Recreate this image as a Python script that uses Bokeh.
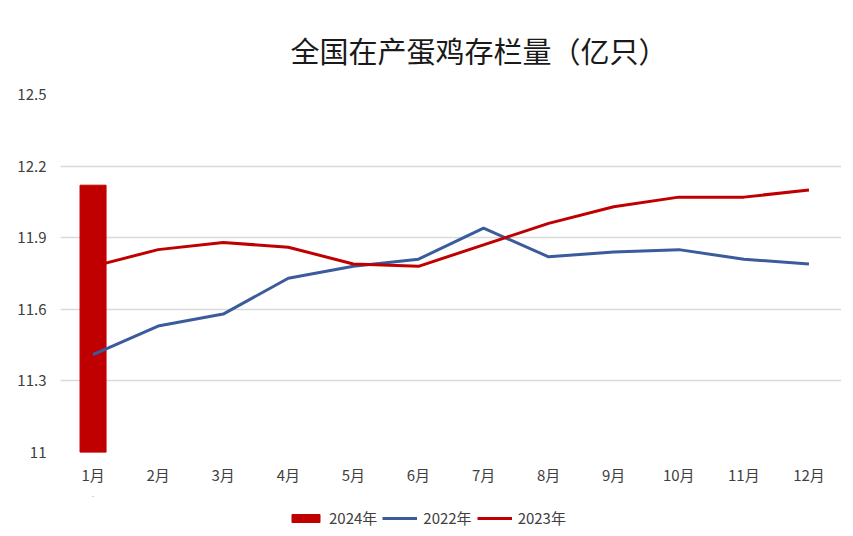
from bokeh.plotting import figure
from bokeh.layouts import column
from bokeh.models import Legend, LegendItem, FixedTicker, NumeralTickFormatter, Range1d, FactorRange
from bokeh.embed import file_html
from bokeh.resources import INLINE

months = ["1月", "2月", "3月", "4月", "5月", "6月", "7月", "8月", "9月", "10月", "11月", "12月"]
bar_month = ["1月"]
v2024 = [12.12]
v2022 = [11.41, 11.53, 11.58, 11.73, 11.78, 11.81, 11.94, 11.82, 11.84, 11.85, 11.81, 11.79]
v2023 = [11.78, 11.85, 11.88, 11.86, 11.79, 11.78, 11.87, 11.96, 12.03, 12.07, 12.07, 12.10]
y_ticks = [11, 11.3, 11.6, 11.9, 12.2, 12.5]
series_names = ["2024年", "2022年", "2023年"]
title_text = "全国在产蛋鸡存栏量（亿只）"

FONT = "Noto Sans CJK SC"
RED = "#C00000"
BLUE = "#3A5B9C"
TXT = "#404040"

p = figure(width=841, height=496, x_range=FactorRange(*months), y_range=Range1d(11, 12.5),
           output_backend="svg", toolbar_location=None,
           min_border_left=60, min_border_right=0, min_border_top=94, min_border_bottom=44)

p.title.text = title_text
p.title.align = "left"
p.title.offset = 230
p.title.standoff = 47
p.title.text_font = FONT
p.title.text_font_size = "29px"
p.title.text_font_style = "normal"
p.title.text_color = "#1A1A1A"

p.vbar(x=bar_month, top=v2024, bottom=11, width=0.4, color=RED)
p.line(months, v2022, line_color=BLUE, line_width=3)
p.line(months, v2023, line_color=RED, line_width=3)

p.outline_line_color = None
p.xgrid.grid_line_color = None
p.ygrid.grid_line_color = "#D9D9D9"
p.ygrid.grid_line_width = 1.5

p.yaxis.ticker = FixedTicker(ticks=y_ticks)
p.yaxis.formatter = NumeralTickFormatter(format="0.[0]")
for ax in (p.xaxis[0], p.yaxis[0]):
    ax.axis_line_color = None
    ax.major_tick_line_color = None
    ax.minor_tick_line_color = None
    ax.major_label_text_font = FONT
    ax.major_label_text_font_size = "15px"
    ax.major_label_text_color = TXT
p.xaxis.major_label_standoff = 5
p.yaxis.major_label_standoff = 8

# legend strip below the chart; its renderers only supply the legend styles
lf = figure(width=841, height=32, x_range=FactorRange(*months), y_range=Range1d(0, 1),
            output_backend="svg", toolbar_location=None,
            x_axis_location=None, y_axis_location=None,
            min_border_left=0, min_border_right=0, min_border_top=0, min_border_bottom=0)
lf.outline_line_color = None
lf.xgrid.visible = False
lf.ygrid.visible = False
rb = lf.vbar(x=bar_month, top=v2024, bottom=11, width=0, color=RED)
r22 = lf.line(months, v2022, line_color=BLUE, line_width=3)
r23 = lf.line(months, v2023, line_color=RED, line_width=3)

legend = Legend(items=[LegendItem(label=series_names[0], renderers=[rb]),
                       LegendItem(label=series_names[1], renderers=[r22]),
                       LegendItem(label=series_names[2], renderers=[r23])],
                orientation="horizontal", location=(228, 0),
                label_text_font=FONT, label_text_font_size="15px", label_text_color=TXT,
                glyph_width=35, glyph_height=10, label_standoff=6, spacing=5,
                margin=0, padding=4, border_line_color=None, background_fill_alpha=0)
lf.add_layout(legend)

open("out.html", "w").write(file_html(column(p, lf, spacing=0), INLINE))
